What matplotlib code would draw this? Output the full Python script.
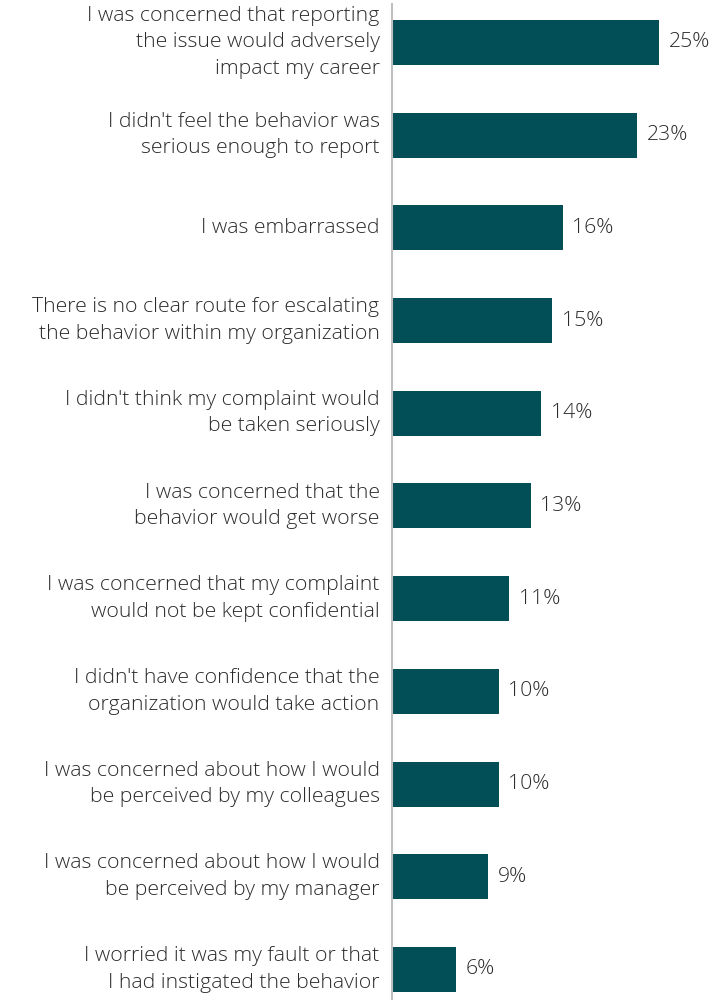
import matplotlib
matplotlib.use("Agg")
import matplotlib.pyplot as plt

plt.rcParams['font.family'] = ['Open Sans', 'DejaVu Sans']

### Data ###
reasons = [
    "I was concerned that reporting\nthe issue would adversely\nimpact my career",
    "I didn't feel the behavior was\nserious enough to report",
    "I was embarrassed",
    "There is no clear route for escalating\nthe behavior within my organization",
    "I didn't think my complaint would\nbe taken seriously",
    "I was concerned that the\nbehavior would get worse",
    "I was concerned that my complaint\nwould not be kept confidential",
    "I didn't have confidence that the\norganization would take action",
    "I was concerned about how I would\nbe perceived by my colleagues",
    "I was concerned about how I would\nbe perceived by my manager",
    "I worried it was my fault or that\nI had instigated the behavior",
]
values = [25, 23, 16, 15, 14, 13, 11, 10, 10, 9, 6]

bar_color = '#034f58'
text_color = '#2b2b2b'

### Plot ###
fig = plt.figure(figsize=(7.25, 10), dpi=100)
ax = fig.add_axes([0.5407, 0.0, 0.4593, 0.996])

pos = list(range(len(values)))
ax.barh(pos, values, height=0.485, color=bar_color)
for y, v in zip(pos, values):
    ax.text(v + 0.9, y, f"{v}%", va='center', ha='left', fontsize=15.3,
            color=text_color, fontweight='light')

ax.set_yticks(pos)
ax.set_yticklabels(reasons, fontsize=15.3, color=text_color, fontweight='light',
                   linespacing=1.43, va='center')
ax.tick_params(axis='y', length=0, pad=9)
ax.set_xticks([])
ax.set_xlim(0, 31.2)
ax.set_ylim(10.33, -0.415)

for s in ['top', 'right', 'bottom']:
    ax.spines[s].set_visible(False)
ax.spines['left'].set_color('#c0c0c0')
ax.spines['left'].set_linewidth(1.5)

fig.savefig("out.png", dpi=100)
